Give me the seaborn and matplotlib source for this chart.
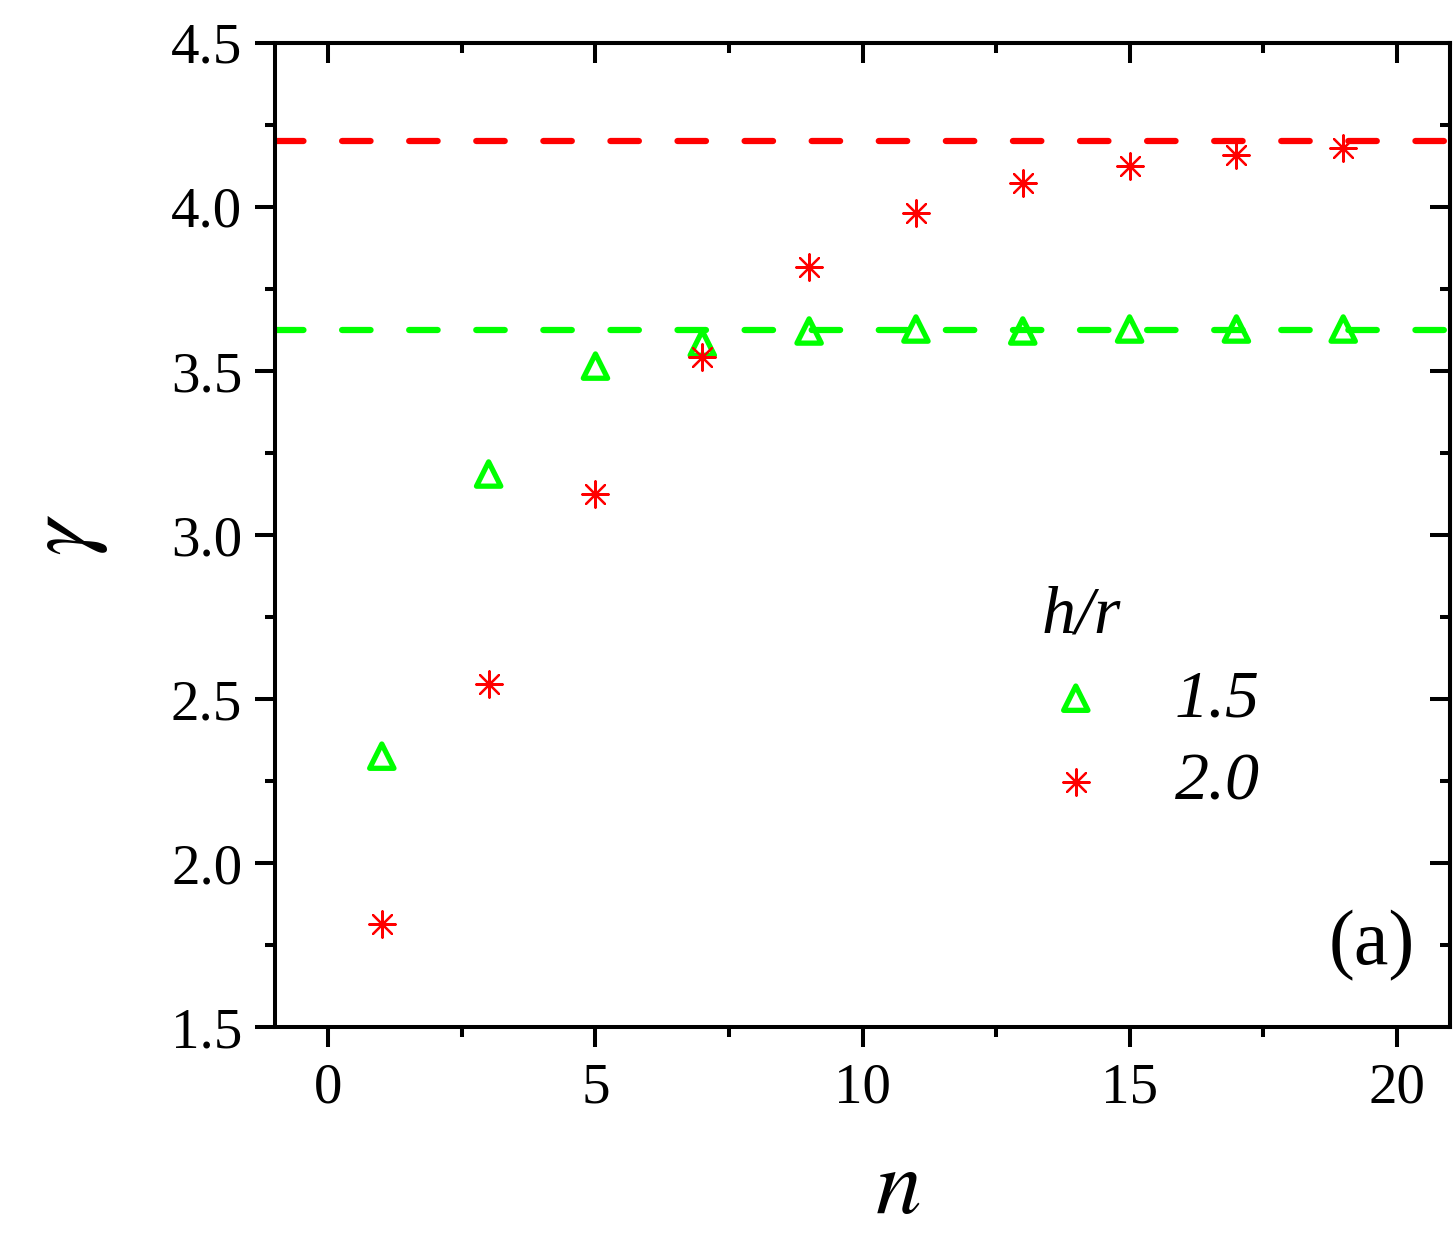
import matplotlib
matplotlib.use("Agg")
import matplotlib.pyplot as plt
import seaborn as sns
from matplotlib.ticker import MultipleLocator

# data
n_vals = [1, 3, 5, 7, 9, 11, 13, 15, 17, 19]
gamma_15 = [2.326, 3.186, 3.515, 3.585, 3.622, 3.628, 3.622, 3.628, 3.628, 3.628]
gamma_20 = [1.814, 2.546, 3.125, 3.543, 3.817, 3.982, 4.073, 4.125, 4.159, 4.180]
limit_15 = 3.625
limit_20 = 4.20
series_labels = ["1.5", "2.0"]
y_ticks = [1.5, 2.0, 2.5, 3.0, 3.5, 4.0, 4.5]

GREEN = "#00ff00"
RED = "#ff0000"

sns.set_theme(style="ticks")
plt.rcParams['font.family'] = ['Liberation Serif', 'DejaVu Serif']
plt.rcParams['mathtext.fontset'] = 'stix'
plt.rcParams['lines.scale_dashes'] = False
plt.rcParams['text.color'] = 'black'
plt.rcParams['axes.labelcolor'] = 'black'
plt.rcParams['xtick.color'] = 'black'
plt.rcParams['ytick.color'] = 'black'

fig = plt.figure(figsize=(14.55, 12.45), dpi=100)
ax = fig.add_axes([0.189, 0.175, 0.8076, 0.7905])

# dashed asymptotes
dash = (0, (20.5, 27.8))
ax.axhline(limit_20, color=RED, lw=4.5, ls=dash, dash_capstyle='round', zorder=2)
ax.axhline(limit_15, color=GREEN, lw=4.5, ls=dash, dash_capstyle='round', zorder=2)

sns.scatterplot(x=n_vals, y=gamma_15, ax=ax, marker='^', s=17.5**2,
                facecolor='none', edgecolor=GREEN, linewidth=3.8,
                label=series_labels[0], zorder=3)
sns.scatterplot(x=n_vals, y=gamma_20, ax=ax, marker=(8, 2, 0), s=19**2,
                color=RED, edgecolor=RED, linewidth=1.6,
                label=series_labels[1], zorder=3)

ax.set_xlim(-1, 21)
ax.set_ylim(1.5, 4.5)
ax.xaxis.set_major_locator(MultipleLocator(5))
ax.xaxis.set_minor_locator(MultipleLocator(2.5))
ax.yaxis.set_minor_locator(MultipleLocator(0.25))
ax.set_yticks(y_ticks)
ax.set_yticklabels([f"{v:.1f}" for v in y_ticks])

for sp in ax.spines.values():
    sp.set_linewidth(2.9)
    sp.set_color('black')
    sp.set_visible(True)

ax.tick_params(which='major', direction='out', length=14.5, width=2.9,
               labelsize=41, pad=9)
ax.tick_params(which='minor', direction='out', length=7.5, width=2.9)
ax.tick_params(axis='x', which='major', pad=11)

# top and right ticks point inward
top = ax.secondary_xaxis('top')
top.xaxis.set_major_locator(MultipleLocator(5))
top.xaxis.set_minor_locator(MultipleLocator(2.5))
top.tick_params(which='major', direction='in', length=14.5, width=2.9, labeltop=False)
top.tick_params(which='minor', direction='in', length=7.5, width=2.9)
top.spines['top'].set_linewidth(2.9)
right = ax.secondary_yaxis('right')
right.yaxis.set_major_locator(MultipleLocator(0.5))
right.yaxis.set_minor_locator(MultipleLocator(0.25))
right.tick_params(which='major', direction='in', length=14.5, width=2.9, labelright=False)
right.tick_params(which='minor', direction='in', length=7.5, width=2.9)
right.spines['right'].set_linewidth(2.9)

ax.set_xlabel(r"$n$", fontsize=66)
ax.set_ylabel(r"$\gamma$", fontsize=66)
ax.xaxis.set_label_coords(0.53, -0.124)
ax.yaxis.set_label_coords(-0.14, 0.5)

leg = ax.legend(title="h/r", loc='upper left', bbox_to_anchor=(0.612, 0.497),
                frameon=False, alignment='left',
                prop=dict(family='Liberation Serif', style='italic', size=49),
                title_fontproperties=dict(family='Liberation Serif', style='italic', size=49),
                handletextpad=0.95, labelspacing=0.32, borderpad=0.2,
                handlelength=1.0, markerscale=1.0)

ax.text(0.97, 0.083, "(a)", transform=ax.transAxes, ha='right', va='center',
        fontsize=56)

fig.savefig("out.png", dpi=100)
